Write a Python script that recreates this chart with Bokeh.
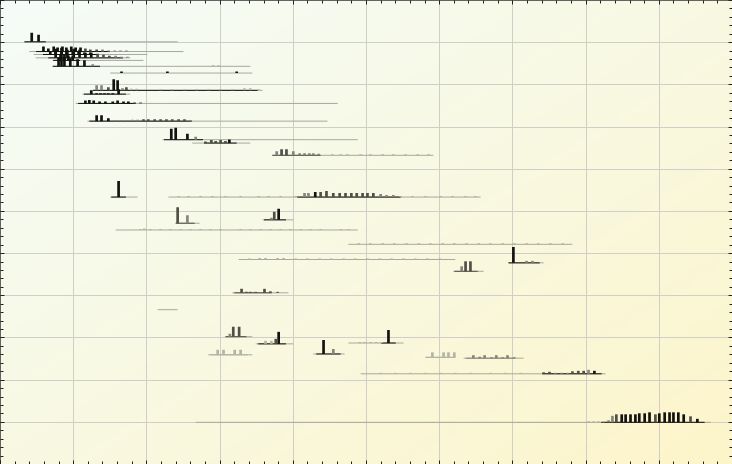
import numpy as np
from bokeh.plotting import figure
from bokeh.models import Range1d, FixedTicker, LinearAxis, CustomJSTickFormatter
from bokeh.embed import file_html
from bokeh.resources import INLINE

# ---------------- data ----------------
# row position of each strip (0 = top), and the span of its time line
row_pos = [0.98, 1.21, 1.28, 1.36, 1.42, 1.56, 1.72, 2.13, 2.22, 2.44, 2.86, 3.30, 3.38,
           3.67, 4.66, 4.66, 5.28, 5.20, 5.44, 5.78, 6.14, 6.42, 6.22, 6.93, 7.33, 7.97,
           8.14, 8.38, 8.12, 8.40, 8.46, 8.48, 8.85, 10.0]
span_start = [4.9, 5.9, 6.8, 7.2, 10.7, 10.7, 22.5, 18.9, 16.8, 15.4, 17.8, 33.2, 39.3,
              55.7, 22.5, 34.4, 35.9, 53.7, 23.6, 71.3, 48.8, 92.8, 104.1, 47.5, 32.2, 46.1,
              52.3, 64.1, 71.3, 42.6, 87.1, 94.9, 73.8, 40.0]
span_end = [36.3, 37.5, 30.1, 26.6, 29.3, 51.2, 51.6, 53.7, 26.6, 69.1, 67.0, 73.2, 51.2,
            88.7, 28.1, 98.4, 40.8, 60.0, 73.2, 117.2, 93.2, 99.0, 111.3, 59.0, 36.3, 51.6,
            60.0, 70.5, 82.6, 51.6, 93.2, 107.2, 124.0, 145.5]

bar_x = [
    [6.4, 7.8],
    [8.8, 9.8, 10.9, 11.7, 12.7, 13.5, 14.5, 15.4, 16.4, 17.4, 18.4, 19.7, 20.9, 22.1, 23.4, 24.6, 25.8],
    [10.2, 11.3, 12.5, 13.5, 14.8, 16.0, 17.2, 18.4],
    [11.3, 12.5, 13.7, 15.0, 16.2, 17.4, 18.6, 19.9, 21.1, 22.3, 23.6, 24.8, 26.0],
    [12.3, 13.1, 13.9, 14.8],
    [11.9, 12.5, 13.1, 14.3, 15.8, 17.2, 18.9, 43.6, 44.7],
    [24.8, 34.2, 48.4],
    [19.7, 20.7, 22.1, 23.2, 24.0, 25.0, 25.8, 26.8, 27.9, 32.8, 35.2, 37.7, 40.2, 42.6, 45.1, 47.5, 50.0, 51.2, 52.9],
    [18.6, 19.7, 20.5, 21.3, 22.1, 23.0, 24.2],
    [17.4, 18.2, 19.1, 20.3, 21.5, 23.0, 24.0, 25.2, 26.2, 27.5, 28.7],
    [19.7, 20.7, 22.1, 23.6, 24.8, 26.0, 27.0, 28.1, 29.3, 30.3, 31.6, 32.8, 34.0, 35.2, 36.5, 37.7, 38.9],
    [35.0, 35.9, 38.3, 40.0],
    [42.0, 43.2, 44.1, 45.1, 46.1, 46.9],
    [56.6, 57.6, 58.6, 60.0, 61.3, 62.3, 63.3, 64.1, 65.2, 68.0, 69.7, 71.1, 73.8, 75.8, 78.3, 80.5, 83.0, 85.5, 87.7],
    [24.2],
    [36.5, 38.5, 41.0, 43.4, 46.1, 49.2, 52.9, 54.9, 57.4, 60.5, 62.3, 63.1, 64.5, 65.6, 66.8, 68.2, 69.5, 70.7,
     71.9, 73.0, 74.2, 75.2, 76.4, 77.9, 79.1, 80.5, 82.0, 84.4, 87.1, 90.2, 92.6, 95.3, 97.3],
    [36.3, 38.3],
    [55.5, 56.1, 57.0],
    [28.7, 29.5, 30.7, 32.8, 34.8, 36.9, 38.9, 41.0, 43.0, 45.1, 49.2, 51.2, 53.3, 55.3, 57.4, 59.4, 61.5, 63.5, 65.6, 69.7, 71.3],
    [73.4, 75.8, 78.3, 80.7, 83.2, 85.7, 88.1, 90.6, 93.0, 95.5, 98.0, 100.4, 102.9, 105.3, 107.8, 110.2, 112.7, 115.2],
    [51.0, 53.1, 54.3, 56.8, 58.0, 60.5, 62.9, 65.4, 67.8, 70.3, 72.7, 75.2, 77.7, 80.1, 82.6, 85.0, 87.5, 90.0],
    [94.5, 95.3, 96.3],
    [105.1, 107.8, 109.0],
    [49.4, 50.4, 51.2, 52.3, 54.1, 55.3, 56.8],
    [],
    [47.0, 47.7, 48.9],
    [54.3, 55.5, 56.4, 57.0],
    [66.2, 68.2],
    [73.6, 74.6, 75.8, 77.0, 78.1, 79.5],
    [44.5, 45.7, 48.0, 49.2],
    [88.5, 90.8, 91.8, 93.0],
    [96.9, 98.2, 99.2, 100.6, 101.6, 102.9, 103.9, 105.3],
    [77.9, 80.9, 84.0, 87.1, 90.2, 93.2, 96.3, 100.4, 103.5, 106.6, 111.3, 112.5, 113.7, 115.0, 116.2, 117.2,
     118.4, 119.5, 120.5, 121.7],
    [120.5, 121.5, 122.5, 123.6, 124.6, 125.4, 126.2, 127.3, 128.1, 129.1, 130.1, 130.9, 132.0, 133.0, 134.2,
     135.0, 136.1, 137.1, 137.9, 138.9, 140.0, 141.4, 142.8],
]
bar_count = [
    [9, 7],
    [5, 3, 5, 4, 5, 4, 5, 4, 4, 3, 2, 2, 2, 1, 1, 1, 1],
    [3, 4, 3, 4, 3, 3, 2, 2],
    [9, 10, 8, 9, 8, 5, 5, 4, 3, 2, 2, 1, 1],
    [6, 6, 5, 5],
    [9, 9, 9, 8, 7, 6, 2, 1, 1],
    [1.5, 1.5, 1.5],
    [5, 5, 3, 11, 10, 2, 3, 1.5, 1.5, 1, 1, 1, 1, 1, 1, 1, 2, 2, 1],
    [4, 1, 1, 1, 1, 1, 5],
    [3, 3.5, 3, 2, 2, 2, 3, 2, 2, 1, 1],
    [6, 6, 3, 1, 1, 1, 1.5, 1.5, 2, 2, 2, 2, 2, 2, 2, 2, 1],
    [11, 12, 6, 3],
    [1.5, 3, 2, 3, 2, 3.5],
    [4, 6, 6, 4, 2, 2, 2, 2, 1.5, 1, 1, 1, 1, 1, 1, 1, 1, 1, 1],
    [16],
    [1, 1, 1, 1, 1, 1, 1, 1, 1, 1, 4, 4, 5, 5, 6, 4, 4, 4, 4, 4, 4, 4, 4, 3, 2, 2, 1, 1, 1, 1, 1, 1, 1],
    [16, 8],
    [2, 8, 11],
    [1, 1.5, 1, 1, 1, 1, 1, 1, 1, 1, 1, 1, 1, 1, 1, 1, 1, 1, 1, 1, 1],
    [1] * 18,
    [1, 1.5, 1.5, 1.5, 1.5, 1, 1, 1, 1, 1, 1, 1, 1, 1, 1, 1, 1, 1],
    [5, 10, 10],
    [16, 2, 2],
    [4, 1, 1, 1, 4, 1.5, 1],
    [],
    [3, 10, 10],
    [3, 3, 5, 12],
    [14, 5],
    [1, 1, 1, 1, 1, 13],
    [5, 5, 5, 5],
    [5, 5, 5, 5],
    [3, 1.5, 3, 1, 3, 1, 3, 1],
    [1, 1, 1, 1, 1, 1, 1, 1, 1, 1, 1.5, 2, 1, 1, 1, 2.5, 3, 3, 4, 3],
    [1, 1, 1, 1, 2, 6.5, 8, 8, 8, 8, 8, 9, 9, 10, 8, 9, 10, 10, 10, 10, 8, 6, 3.5],
]
# intensity class of each bar: 0 light ... 3 black
bar_tone = [
    [3, 3],
    [3, 3, 3, 3, 3, 3, 3, 3, 3, 2, 2, 2, 1, 1, 1, 1, 1],
    [3, 3, 3, 3, 3, 3, 3, 3],
    [3, 3, 3, 3, 3, 3, 3, 2, 2, 2, 1, 1, 1],
    [3, 3, 3, 3],
    [3, 3, 3, 3, 3, 3, 1, 0, 0],
    [3, 3, 3],
    [1, 1, 2, 3, 3, 1, 2, 0, 0, 0, 0, 0, 0, 0, 0, 0, 0, 0, 0],
    [3, 3, 3, 3, 3, 3, 3],
    [3, 3, 3, 3, 3, 3, 3, 3, 3, 2, 2],
    [3, 3, 3, 1, 1, 1, 1, 1, 2, 2, 2, 2, 2, 2, 2, 2, 1],
    [3, 3, 3, 1],
    [2, 2, 2, 2, 2, 3],
    [1, 2, 2, 1, 1, 1, 1, 1, 1, 0, 0, 0, 0, 0, 0, 0, 0, 0, 0],
    [3],
    [0, 0, 0, 0, 0, 0, 0, 0, 0, 0, 1, 1, 3, 2, 2, 2, 2, 2, 2, 2, 2, 2, 2, 1, 1, 1, 0, 0, 0, 0, 0, 0, 0],
    [2, 1],
    [1, 2, 3],
    [0] * 21,
    [0] * 18,
    [0] * 18,
    [1, 2, 2],
    [3, 1, 1],
    [2, 2, 2, 2, 2, 2, 2],
    [],
    [1, 2, 2],
    [0, 0, 2, 3],
    [3, 1],
    [0, 0, 0, 0, 0, 3],
    [0, 0, 0, 0],
    [0, 0, 0, 0],
    [1, 1, 1, 1, 1, 1, 1, 1],
    [0, 0, 0, 0, 0, 0, 0, 0, 0, 0, 2, 2, 1, 1, 1, 2, 2, 2, 1, 3],
    [0, 0, 0, 0, 1, 1, 2, 3, 3, 3, 3, 3, 3, 3, 2, 3, 3, 3, 3, 3, 3, 2, 3],
]

x_major = list(range(0, 151, 15))
x_minor = list(range(0, 151, 3))
y_major = list(range(0, 12))
y_minor = [round(v * 0.2, 1) for v in range(0, 56)]

# ---------------- styling ----------------
TONES = ["#b4b4a6", "#85857a", "#4f4f46", "#121210"]
COUNT_SCALE = 1 / 42.2   # strip height per count (row units)
BAR_W = 0.55

p = figure(width=732, height=464, x_range=Range1d(0, 150), y_range=Range1d(11, 0),
           output_backend="svg", toolbar_location=None, min_border=0,
           x_axis_location=None, y_axis_location=None)
p.background_fill_color = "#fbfbe6"
p.border_fill_color = "#fbfbe6"
p.outline_line_color = "#333333"
p.outline_line_width = 1

# soft diagonal background gradient (row 0 = top of the frame)
ny, nx = 116, 183
yy, xx = np.mgrid[0:ny, 0:nx]
t = np.clip((xx / (nx - 1) + yy / (ny - 1)) / 2, 0, 1) ** 1.15
c0 = np.array([245, 252, 247])
c1 = np.array([253, 245, 202])
rgb = (c0[None, None, :] * (1 - t[..., None]) + c1[None, None, :] * t[..., None]).astype(np.uint32)
img = ((255 << 24) | (rgb[..., 2] << 16) | (rgb[..., 1] << 8) | rgb[..., 0]).astype(np.uint32)
bg = p.image_rgba(image=[img], x=0, y=0, dw=150, dh=11)
bg.level = "image"

p.xgrid.ticker = FixedTicker(ticks=x_major)
p.ygrid.ticker = FixedTicker(ticks=y_major)
p.grid.grid_line_color = "#cfcfc8"
p.grid.grid_line_width = 1

blank = CustomJSTickFormatter(code="return ''")
for side in ["below", "above"]:
    ax = LinearAxis(ticker=FixedTicker(ticks=x_major, minor_ticks=x_minor), formatter=blank)
    p.add_layout(ax, side)
for side in ["left", "right"]:
    ax = LinearAxis(ticker=FixedTicker(ticks=y_major, minor_ticks=y_minor), formatter=blank)
    p.add_layout(ax, side)
for ax in p.axis:
    ax.axis_line_color = None
    ax.major_tick_in = 4
    ax.major_tick_out = 0
    ax.minor_tick_in = 3
    ax.minor_tick_out = 0
    ax.major_tick_line_color = "#222222"
    ax.minor_tick_line_color = "#222222"
    ax.major_label_standoff = 0
    ax.major_label_text_font_size = "1px"

# time lines: faint full span
p.segment(x0=span_start, y0=row_pos, x1=span_end, y1=row_pos, line_color="#a8a89c", line_width=1)

# darker core under the substantial bars
cx0, cx1, cy, cc = [], [], [], []
for i in range(len(row_pos)):
    xs = [x for x, h in zip(bar_x[i], bar_count[i]) if h >= 2]
    tn = [tt for tt, h in zip(bar_tone[i], bar_count[i]) if h >= 2]
    if xs:
        cx0.append(max(span_start[i], min(xs) - 1.5))
        cx1.append(min(span_end[i], max(xs) + 1.5))
        cy.append(row_pos[i])
        cc.append(TONES[max(tn)])
p.segment(x0=cx0, y0=cy, x1=cx1, y1=cy, line_color=cc, line_width=1)

# bars
bx, bb, bt, bc = [], [], [], []
for i in range(len(row_pos)):
    for x, h, tn in zip(bar_x[i], bar_count[i], bar_tone[i]):
        bx.append(x)
        bb.append(row_pos[i])
        bt.append(row_pos[i] - h * COUNT_SCALE)
        bc.append(TONES[tn])
p.vbar(x=bx, bottom=bb, top=bt, width=BAR_W, fill_color=bc, line_color=None)

open("out.html", "w").write(file_html(p, INLINE))
